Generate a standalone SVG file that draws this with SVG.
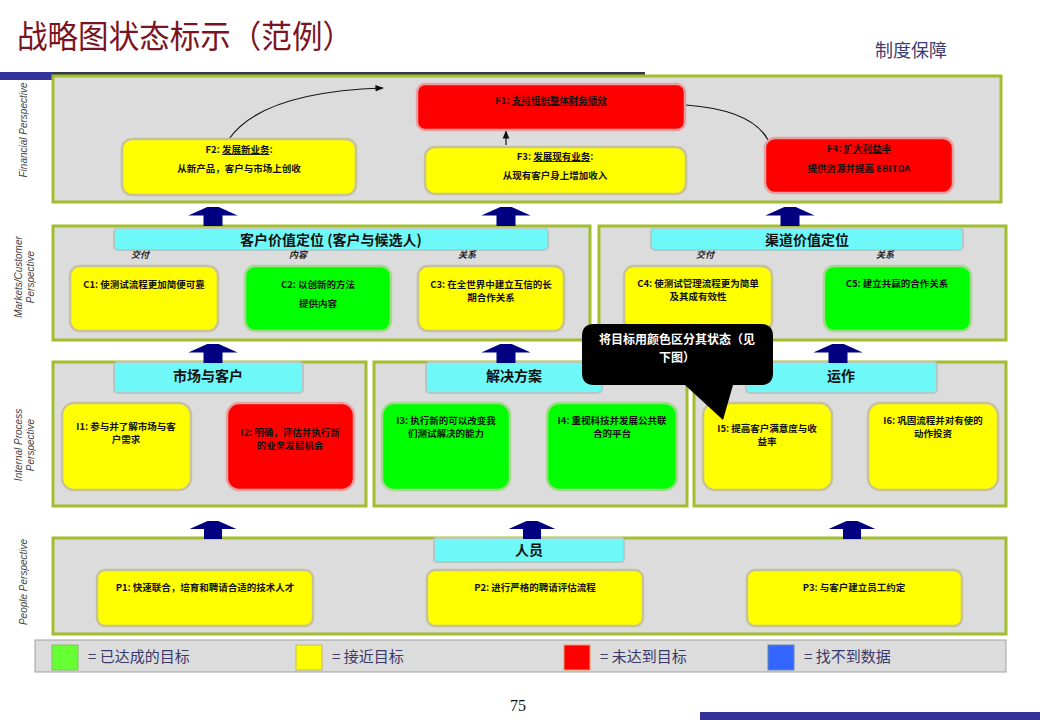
<svg xmlns="http://www.w3.org/2000/svg" width="1040" height="720" viewBox="0 0 1040 720">
<defs>
<style>
.panel{fill:#dcdcdc;stroke:#a3bd2e;stroke-width:3}
.hdr{fill:#6ff8f8;stroke:#b4c8c8;stroke-width:2}
.hdrt{font-family:"Noto Sans CJK SC","Noto Sans",sans-serif;font-size:14px;font-weight:bold;fill:#111;text-anchor:middle}
.box{stroke:#c8c29a;stroke-width:2.5}
.y{fill:#ffff00}
.r{fill:#ff0000;stroke:#e8a0a0}
.g{fill:#00ff00;stroke:#a8d890}
.t{font-family:"Noto Sans CJK SC","Noto Sans",sans-serif;font-size:9.5px;font-weight:bold;fill:#111;text-anchor:middle}
.sub{font-family:"Noto Sans CJK SC",sans-serif;font-size:9px;font-style:italic;font-weight:bold;fill:#222;text-anchor:middle}
.persp{font-family:"Liberation Sans",Arial,sans-serif;font-size:10px;font-style:italic;fill:#444;text-anchor:middle}
.barrow{fill:#000080}
.leg{font-family:"Noto Sans CJK SC",sans-serif;font-size:15px;fill:#3a3a6a}
.conn{fill:none;stroke:#111;stroke-width:1.2}
.co{font-family:"Noto Sans CJK SC",sans-serif;font-size:12px;font-weight:bold;fill:#fff;text-anchor:middle}
</style>
<marker id="ah" viewBox="0 0 10 10" refX="9" refY="5" markerWidth="7" markerHeight="7" orient="auto"><path d="M0,1 L10,5 L0,9 z" fill="#111"/></marker>
<symbol id="up" viewBox="0 0 56 20" overflow="visible"><polygon points="18,20 18,9 2,9 22,0 34,0 54,9 38,9 38,20" class="barrow"/></symbol>
</defs>
<rect width="1040" height="720" fill="#ffffff"/>
<text x="17" y="48" font-family="Noto Sans CJK SC,sans-serif" font-size="32" fill="#7a1422" textLength="336" lengthAdjust="spacingAndGlyphs">战略图状态标示（范例）</text>
<text x="875" y="57" font-family="Noto Sans CJK SC,sans-serif" font-size="18" fill="#3c3c72" textLength="72" lengthAdjust="spacingAndGlyphs">制度保障</text>
<rect x="0" y="72" width="53" height="8" fill="#333399"/>
<rect x="53" y="72" width="592" height="4" fill="#333a4a"/>
<text class="persp" transform="translate(27,130) rotate(-90)">Financial Perspective</text>
<text class="persp" transform="translate(28,277) rotate(-90)"><tspan x="0" y="-6">Markets/Customer</tspan><tspan x="0" y="6">Perspective</tspan></text>
<text class="persp" transform="translate(28,445) rotate(-90)"><tspan x="0" y="-6">Internal Process</tspan><tspan x="0" y="6">Perspective</tspan></text>
<text class="persp" transform="translate(27,582) rotate(-90)">People  Perspective</text>
<g id="panels">
<rect class="panel" x="53" y="76" width="948" height="126"/>
<rect class="panel" x="53" y="226" width="537" height="114"/>
<rect class="panel" x="599" y="226" width="407" height="114"/>
<rect class="panel" x="53" y="362" width="313" height="144"/>
<rect class="panel" x="374" y="362" width="313" height="144"/>
<rect class="panel" x="694" y="362" width="312" height="144"/>
<rect class="panel" x="53" y="538" width="953" height="96"/>
</g>
<g id="headers">
<rect class="hdr" x="114" y="228" width="434" height="22" rx="4"/>
<text class="hdrt" x="331" y="245">客户价值定位 (客户与候选人)</text>
<rect class="hdr" x="651" y="228" width="312" height="22" rx="4"/>
<text class="hdrt" x="807" y="245">渠道价值定位</text>
<rect class="hdr" x="114" y="362" width="189" height="31" rx="4"/>
<text class="hdrt" x="208" y="381">市场与客户</text>
<rect class="hdr" x="426" y="362" width="176" height="31" rx="4"/>
<text class="hdrt" x="514" y="381">解决方案</text>
<rect class="hdr" x="746" y="362" width="191" height="31" rx="4"/>
<text class="hdrt" x="841" y="381">运作</text>
<rect class="hdr" x="434" y="538" width="190" height="24" rx="3"/>
<text class="hdrt" x="529" y="555">人员</text>
<text class="sub" x="140" y="258">交付</text>
<text class="sub" x="298" y="258">内容</text>
<text class="sub" x="467" y="258">关系</text>
<text class="sub" x="705" y="258">交付</text>
<text class="sub" x="885" y="258">关系</text>
</g>
<g id="connectors">
<path class="conn" d="M229,139 Q262,92 383,88" marker-end="url(#ah)"/>
<path class="conn" d="M686,105 Q752,110 768,140"/>
<path class="conn" d="M506,145 L506,131" marker-end="url(#ah)"/>
<use href="#up" x="185" y="207" width="56" height="19"/>
<use href="#up" x="478" y="207" width="56" height="19"/>
<use href="#up" x="762" y="207" width="56" height="19"/>
<use href="#up" x="185" y="344" width="56" height="19"/>
<use href="#up" x="478" y="344" width="56" height="19"/>
<use href="#up" x="810" y="344" width="56" height="19"/>
<use href="#up" x="185" y="521" width="56" height="18"/>
<use href="#up" x="504" y="521" width="56" height="18"/>
<use href="#up" x="824" y="521" width="56" height="18"/>
</g>
<g id="F1"><rect class="box r" x="417" y="84" width="268" height="46" rx="8"/><text class="t" x="551" y="104">F1: <tspan text-decoration="underline">支持组织整体财务绩效</tspan></text></g>
<g id="F2"><rect class="box y" x="122" y="139" width="234" height="56" rx="10"/><text class="t" x="239" y="153">F2: <tspan text-decoration="underline">发展新业务</tspan>:</text><text class="t" x="239" y="172">从新产品，客户与市场上创收</text></g>
<g id="F3"><rect class="box y" x="425" y="147" width="261" height="47" rx="10"/><text class="t" x="555" y="160">F3: <tspan text-decoration="underline">发展现有业务</tspan>:</text><text class="t" x="555" y="179">从现有客户身上增加收入</text></g>
<g id="F4"><rect class="box r" x="765" y="138" width="188" height="55" rx="10"/><text class="t" x="859" y="152">F4: <tspan text-decoration="underline">扩大利益率</tspan></text><text class="t" x="859" y="172">提供资源并提高 EBITDA</text></g>
<g id="C1"><rect class="box y" x="70" y="266" width="148" height="65" rx="10"/><text class="t" x="144" y="288">C1: 使测试流程更加简便可靠</text></g>
<g id="C2"><rect class="box g" x="245" y="266" width="146" height="65" rx="10"/><text class="t" x="318" y="288">C2: 以创新的方法</text><text class="t" x="318" y="307">提供内容</text></g>
<g id="C3"><rect class="box y" x="418" y="266" width="146" height="65" rx="10"/><text class="t" x="491" y="288">C3: 在全世界中建立互信的长</text><text class="t" x="491" y="301">期合作关系</text></g>
<g id="C4"><rect class="box y" x="624" y="266" width="148" height="65" rx="10"/><text class="t" x="698" y="287">C4: 使测试管理流程更为简单</text><text class="t" x="698" y="300">及其成有效性</text></g>
<g id="C5"><rect class="box g" x="824" y="266" width="147" height="65" rx="10"/><text class="t" x="897" y="287">C5: 建立共赢的合作关系</text></g>
<g id="I1"><rect class="box y" x="62" y="403" width="129" height="87" rx="12"/><text class="t" x="126" y="430">I1: 参与并了解市场与客</text><text class="t" x="126" y="443">户需求</text></g>
<g id="I2"><rect class="box r" x="227" y="403" width="127" height="87" rx="12"/><text class="t" x="290" y="436">I2: 明确，评估并执行新</text><text class="t" x="290" y="449">的业务发展机会</text></g>
<g id="I3"><rect class="box g" x="382" y="403" width="128" height="87" rx="12"/><text class="t" x="446" y="424">I3: 执行新的可以改变我</text><text class="t" x="446" y="437">们测试解决的能力</text></g>
<g id="I4"><rect class="box g" x="547" y="403" width="130" height="87" rx="12"/><text class="t" x="612" y="424">I4: 重视科技并发展公共联</text><text class="t" x="612" y="437">合的平台</text></g>
<g id="I5"><rect class="box y" x="703" y="403" width="129" height="87" rx="12"/><text class="t" x="767" y="432">I5: 提高客户满意度与收</text><text class="t" x="767" y="445">益率</text></g>
<g id="I6"><rect class="box y" x="868" y="403" width="130" height="87" rx="12"/><text class="t" x="933" y="424">I6: 巩固流程并对有使的</text><text class="t" x="933" y="437">动作投资</text></g>
<g id="P1"><rect class="box y" x="97" y="570" width="216" height="56" rx="8"/><text class="t" x="205" y="591">P1: 快速联合，培育和聘请合适的技术人才</text></g>
<g id="P2"><rect class="box y" x="427" y="570" width="216" height="56" rx="8"/><text class="t" x="535" y="591">P2: 进行严格的聘请评估流程</text></g>
<g id="P3"><rect class="box y" x="747" y="570" width="215" height="56" rx="8"/><text class="t" x="854" y="591">P3: 与客户建立员工约定</text></g>
<g id="callout">
<path d="M594,324 H761 Q773,324 773,336 V373 Q773,385 761,385 H733 L723,420 L685,385 H594 Q582,385 582,373 V336 Q582,324 594,324 Z" fill="#000"/>
<text class="co" x="677" y="344">将目标用颜色区分其状态（见</text>
<text class="co" x="677" y="362">下图）</text>
</g>
<g id="legend">
<rect x="35" y="640" width="971" height="32" fill="#dcdcdc" stroke="#a0a0a0" stroke-width="1"/>
<rect x="52" y="645" width="26" height="25" fill="#66ff33" stroke="#88bb66"/>
<text class="leg" x="88" y="662">= 已达成的目标</text>
<rect x="296" y="645" width="26" height="25" fill="#ffff00" stroke="#bbbb66"/>
<text class="leg" x="332" y="662">= 接近目标</text>
<rect x="564" y="645" width="26" height="25" fill="#ff0000" stroke="#ee9966"/>
<text class="leg" x="600" y="662">= 未达到目标</text>
<rect x="768" y="645" width="26" height="25" fill="#3366ff" stroke="#6688aa"/>
<text class="leg" x="804" y="662">= 找不到数据</text>
</g>
<text x="518" y="711" font-family="Liberation Serif,serif" font-size="16" fill="#111" text-anchor="middle">75</text>
<rect x="700" y="712" width="340" height="8" fill="#333399"/>
</svg>
